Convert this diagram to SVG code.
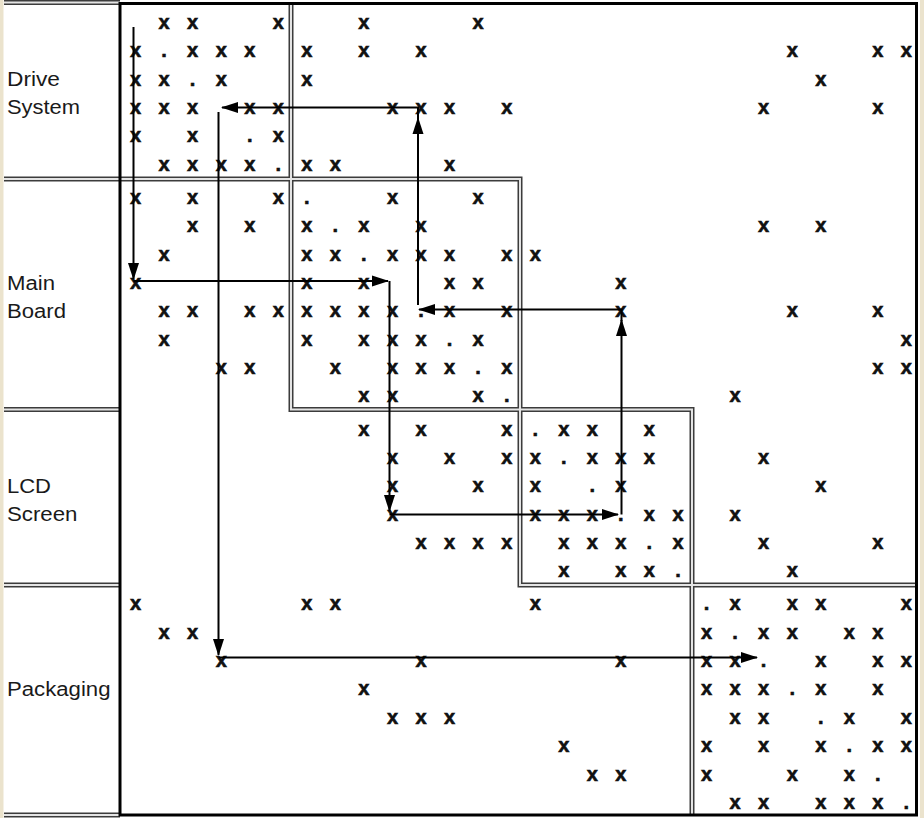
<svg xmlns="http://www.w3.org/2000/svg" width="924" height="818" viewBox="0 0 924 818">
  <defs>
    <marker id="ah" markerUnits="userSpaceOnUse" markerWidth="17" markerHeight="12" refX="16" refY="6" orient="auto" viewBox="0 0 17 12">
      <path d="M0,0.5 L17,6 L0,11.5 Z" fill="#000"/>
    </marker>
    <style>
      .lbl { font-family: "Liberation Sans", Arial, sans-serif; font-size: 20px; fill: #1a1a1a; }
      .m { font-family: "Liberation Sans", Arial, sans-serif; font-size: 20px; font-weight: bold; fill: #111; stroke: #111; stroke-width: 0.6; text-anchor: middle; }
      .sepd { fill: none; stroke: #3c3c3c; stroke-width: 5; }
      .sepl { fill: none; stroke: #e4e4e4; stroke-width: 2; }
      .arr { fill: none; stroke: #000; stroke-width: 2; }
    </style>
  </defs>

  <rect x="0" y="0" width="924" height="818" fill="#ebe3cd"/>
  <rect x="3.5" y="0" width="916.5" height="818" fill="#fff"/>

  <g id="grid">
    <path class="sepd" d="M4,2.5 H120 M4,179 H520 V585 H917 M291,3.5 V409.5 H692 V815 M4,409.5 H120 M4,585 H120 M4,815 H120"/>
    <path class="sepl" d="M4,2.5 H120 M4,179 H520 V585 H917 M291,3.5 V409.5 H692 V815 M4,409.5 H120 M4,585 H120 M4,815 H120"/>
    <rect x="120" y="3.5" width="796.5" height="811.5" fill="none" stroke="#000" stroke-width="3"/>
  </g>

  <g id="labels">
    <text class="lbl" x="7" y="86" textLength="53" lengthAdjust="spacingAndGlyphs">Drive</text>
    <text class="lbl" x="7" y="113.5" textLength="73" lengthAdjust="spacingAndGlyphs">System</text>
    <text class="lbl" x="7" y="290" textLength="48" lengthAdjust="spacingAndGlyphs">Main</text>
    <text class="lbl" x="7" y="317.5" textLength="59" lengthAdjust="spacingAndGlyphs">Board</text>
    <text class="lbl" x="7" y="492.5" textLength="44" lengthAdjust="spacingAndGlyphs">LCD</text>
    <text class="lbl" x="7" y="520.5" textLength="70.5" lengthAdjust="spacingAndGlyphs">Screen</text>
    <text class="lbl" x="7" y="696" textLength="103.5" lengthAdjust="spacingAndGlyphs">Packaging</text>
  </g>

  <g id="block-drive-system">
    <text class="m" x="164.1 192.6 278.3 363.9 478.1" y="29">xxxxx</text>
    <text class="m" x="135.5 164.1 192.6 221.2 249.7 306.8 363.9 421.0 792.2 877.8 906.4" y="57.3">x.xxxxxxxxx</text>
    <text class="m" x="135.5 164.1 192.6 221.2 306.8 820.7" y="85.6">xx.xxx</text>
    <text class="m" x="135.5 164.1 192.6 249.7 278.3 392.5 421.0 449.6 506.7 763.6 877.8" y="113.9">xxxxxxxxxxx</text>
    <text class="m" x="135.5 192.6 249.7 278.3" y="142.2">xx.x</text>
    <text class="m" x="164.1 192.6 221.2 249.7 278.3 306.8 335.4 449.6" y="170.5">xxxx.xxx</text>
  </g>

  <g id="block-main-board">
    <text class="m" x="135.5 192.6 278.3 306.8 392.5 478.1" y="204">xxx.xx</text>
    <text class="m" x="192.6 249.7 306.8 335.4 363.9 421.0 763.6 820.7" y="232.3">xxx.xxxx</text>
    <text class="m" x="164.1 306.8 335.4 363.9 392.5 421.0 449.6 506.7 535.2" y="260.6">xxx.xxxxx</text>
    <text class="m" x="135.5 306.8 363.9 449.6 478.1 620.9" y="288.9">xxxxxx</text>
    <text class="m" x="164.1 192.6 249.7 278.3 306.8 335.4 363.9 392.5 421.0 449.6 506.7 620.9 792.2 877.8" y="317.2">xxxxxxxx.xxxxx</text>
    <text class="m" x="164.1 306.8 363.9 392.5 421.0 449.6 478.1 906.4" y="345.5">xxxxx.xx</text>
    <text class="m" x="221.2 249.7 335.4 392.5 421.0 449.6 478.1 506.7 877.8 906.4" y="373.8">xxxxxx.xxx</text>
    <text class="m" x="363.9 392.5 478.1 506.7 735.1" y="402.1">xxx.x</text>
  </g>

  <g id="block-lcd-screen">
    <text class="m" x="363.9 421.0 506.7 535.2 563.8 592.3 649.4" y="435.7">xxx.xxx</text>
    <text class="m" x="392.5 449.6 506.7 535.2 563.8 592.3 620.9 649.4 763.6" y="464">xxxx.xxxx</text>
    <text class="m" x="392.5 478.1 535.2 592.3 620.9 820.7" y="492.3">xxx.xx</text>
    <text class="m" x="392.5 535.2 563.8 592.3 620.9 649.4 678.0 735.1" y="520.6">xxxx.xxx</text>
    <text class="m" x="421.0 449.6 478.1 506.7 563.8 592.3 620.9 649.4 678.0 763.6 877.8" y="548.9">xxxxxxx.xxx</text>
    <text class="m" x="563.8 620.9 649.4 678.0 792.2" y="577.2">xxx.x</text>
  </g>

  <g id="block-packaging">
    <text class="m" x="135.5 306.8 335.4 535.2 706.5 735.1 792.2 820.7 906.4" y="610.2">xxxx.xxxx</text>
    <text class="m" x="164.1 192.6 706.5 735.1 763.6 792.2 849.3 877.8" y="638.6">xxx.xxxx</text>
    <text class="m" x="221.2 421.0 620.9 706.5 735.1 763.6 820.7 877.8 906.4" y="667">xxxxx.xxx</text>
    <text class="m" x="363.9 706.5 735.1 763.6 792.2 820.7 877.8" y="695.4">xxxx.xx</text>
    <text class="m" x="392.5 421.0 449.6 735.1 763.6 820.7 849.3 906.4" y="723.8">xxxxx.xx</text>
    <text class="m" x="563.8 706.5 763.6 820.7 849.3 877.8 906.4" y="752.2">xxxx.xx</text>
    <text class="m" x="592.3 620.9 706.5 792.2 849.3 877.8" y="780.6">xxxxx.</text>
    <text class="m" x="735.1 763.6 820.7 849.3 877.8 906.4" y="809">xxxxx.</text>
  </g>

  <g id="connectors">
    <path class="arr" d="M133.5,27 V279" marker-end="url(#ah)"/>
    <path class="arr" d="M133.5,281 H388" marker-end="url(#ah)"/>
    <path class="arr" d="M389.5,281 V511" marker-end="url(#ah)"/>
    <path class="arr" d="M389.5,514.5 H618" marker-end="url(#ah)"/>
    <path class="arr" d="M621.5,514.5 V320" marker-end="url(#ah)"/>
    <path class="arr" d="M621.5,321 V309.5 H419" marker-end="url(#ah)"/>
    <path class="arr" d="M418,305 V118" marker-end="url(#ah)"/>
    <path class="arr" d="M418,119 V107.5 H222" marker-end="url(#ah)"/>
    <path class="arr" d="M218.5,112 V655" marker-end="url(#ah)"/>
    <path class="arr" d="M219,657.5 H757" marker-end="url(#ah)"/>
  </g>
</svg>
